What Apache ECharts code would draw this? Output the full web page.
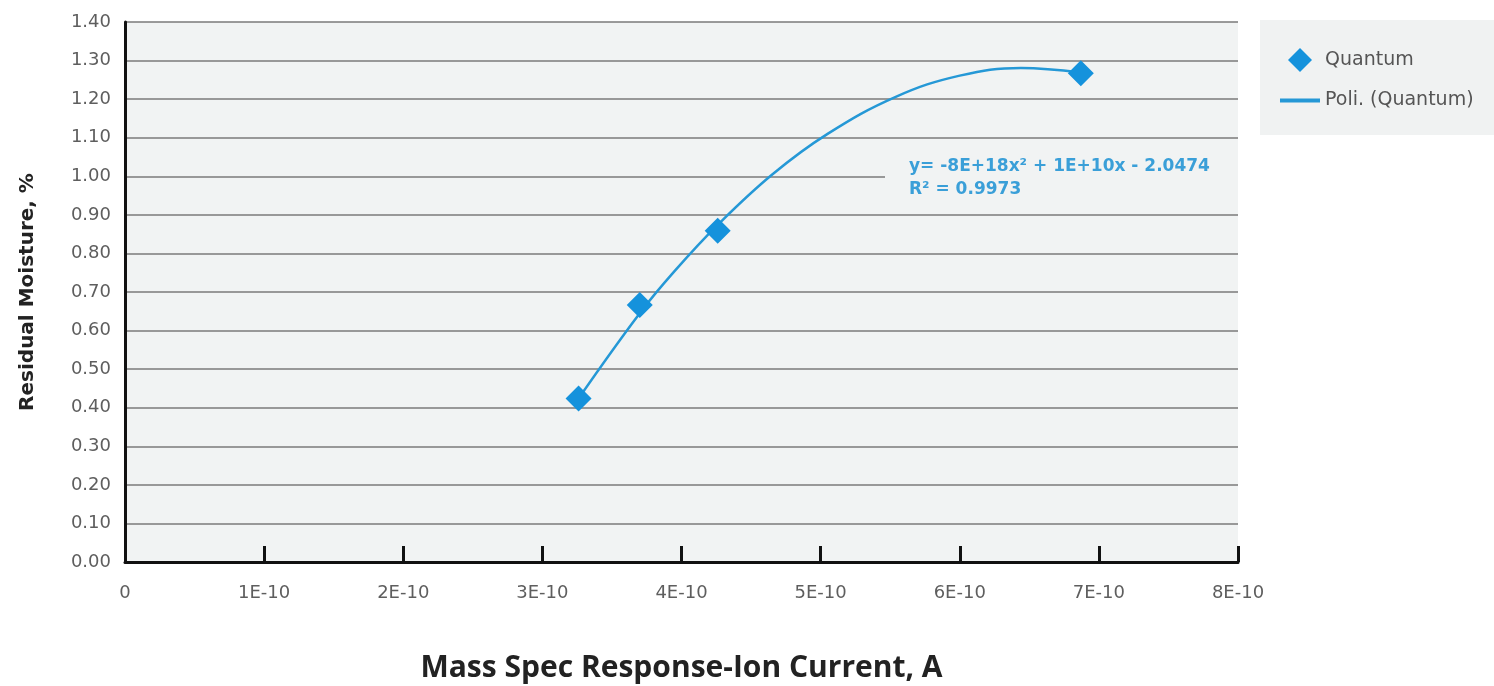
<!DOCTYPE html>
<html>
<head>
<meta charset="utf-8">
<script src="https://cdn.jsdelivr.net/npm/echarts@6/dist/echarts.min.js"></script>
<style>
  html, body { margin: 0; padding: 0; background: #ffffff; }
  #chart { width: 1494px; height: 686px; }
</style>
</head>
<body>
<div id="chart"></div>
<script>
// measured points (x in A, y in %)
const quantumX = [3.26e-10, 3.70e-10, 4.26e-10, 6.87e-10];
const quantumY = [0.424, 0.666, 0.859, 1.267];

// polynomial trendline
const trendX = [3.26e-10, 3.70e-10, 3.95e-10, 4.26e-10, 4.65e-10, 5.05e-10, 5.54e-10, 6.00e-10, 6.44e-10, 6.87e-10];
const trendY = [0.424, 0.645, 0.754, 0.874, 1.004, 1.110, 1.206, 1.261, 1.281, 1.269];

const xTickLabels = ['0', '1E-10', '2E-10', '3E-10', '4E-10', '5E-10', '6E-10', '7E-10', '8E-10'];
const equationText = 'y= -8E+18x² + 1E+10x - 2.0474\nR² = 0.9973';

const blue = '#1592dc';
const plotBg = '#f1f3f3';
const diamond = 'path://M0,-10L10,0L0,10L-10,0Z';
const dash = 'path://M0,0L40,0L40,4L0,4Z';
const labelFont = '"DejaVu Sans", sans-serif';

const chart = echarts.init(document.getElementById('chart'));
chart.setOption({
    animation: false,
    textStyle: { fontFamily: labelFont },
    grid: {
        left: 125, right: 256, top: 22, bottom: 124,
        containLabel: false,
        outerBoundsMode: 'none',
        show: true,
        backgroundColor: plotBg,
        borderWidth: 0
    },
    legend: {
        orient: 'vertical',
        left: 1260,
        top: 20,
        padding: [28, 40, 25, 20],
        backgroundColor: '#f0f2f2',
        itemWidth: 40,
        itemHeight: 24,
        itemGap: 19,
        textStyle: { fontSize: 19, color: '#555', fontFamily: labelFont },
        data: [
            { name: 'Quantum', icon: diamond },
            { name: 'Poli. (Quantum)', icon: dash }
        ]
    },
    xAxis: {
        type: 'value',
        min: 0,
        max: 8e-10,
        interval: 1e-10,
        name: 'Mass Spec Response-Ion Current, A',
        nameLocation: 'middle',
        nameGap: 91,
        nameTextStyle: { fontSize: 30, fontWeight: 'bold', color: '#222', fontFamily: '"Open Sans", sans-serif' },
        axisLine: { show: true, onZero: false, lineStyle: { color: '#111', width: 3 } },
        axisTick: { show: true, inside: true, length: 16, lineStyle: { color: '#111', width: 3 } },
        axisLabel: {
            margin: 22,
            fontSize: 18,
            color: '#5e5e5e',
            formatter: function (v) { return xTickLabels[Math.round(v / 1e-10)]; }
        },
        splitLine: { show: false }
    },
    yAxis: {
        type: 'value',
        min: 0,
        max: 1.4,
        interval: 0.1,
        name: 'Residual Moisture, %',
        nameLocation: 'middle',
        nameGap: 87,
        nameRotate: 90,
        nameTextStyle: { fontSize: 20, fontWeight: 'bold', color: '#222', fontFamily: labelFont },
        axisLine: { show: true, lineStyle: { color: '#111', width: 3 } },
        axisTick: { show: false },
        axisLabel: {
            margin: 14,
            fontSize: 18,
            color: '#5e5e5e',
            formatter: function (v) { return v.toFixed(2); }
        },
        splitLine: { show: true, lineStyle: { color: '#7a7a7a', width: 1.5 } }
    },
    graphic: [
        {
            type: 'rect',
            z: 5,
            shape: { x: 885, y: 150, width: 353, height: 50 },
            style: { fill: plotBg }
        },
        {
            type: 'text',
            left: 909,
            top: 155,
            z: 6,
            style: {
                text: equationText,
                fill: '#3a9fd8',
                font: 'bold 17px "DejaVu Sans", sans-serif',
                lineHeight: 23
            }
        }
    ],
    series: [
        {
            name: 'Poli. (Quantum)',
            type: 'line',
            smooth: 0.4,
            symbol: 'none',
            lineStyle: { color: '#2598d6', width: 2.5 },
            itemStyle: { color: '#2598d6' },
            z: 2,
            data: trendX.map((x, i) => [x, trendY[i]])
        },
        {
            name: 'Quantum',
            type: 'scatter',
            symbol: diamond,
            symbolSize: 26,
            itemStyle: { color: blue, opacity: 1 },
            z: 3,
            data: quantumX.map((x, i) => [x, quantumY[i]])
        }
    ]
});
</script>
</body>
</html>
